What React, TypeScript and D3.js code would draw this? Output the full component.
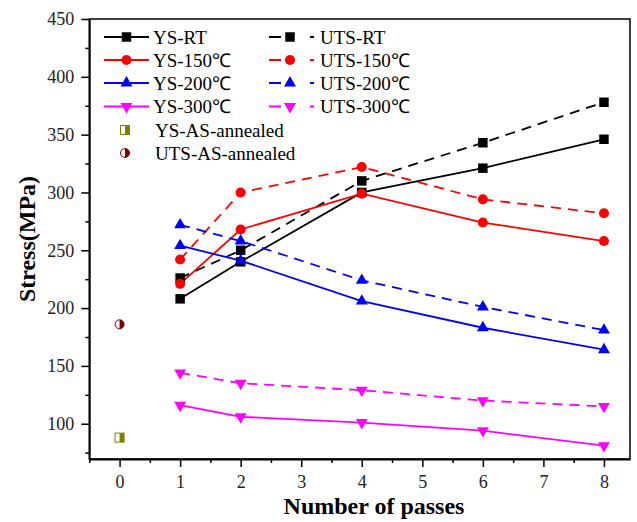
import { useEffect, useRef } from 'react'
import * as d3 from 'd3'

// number of passes
const passes = [1, 2, 4, 6, 8]

// stress values (MPa)
const ysRT = [208, 240, 300, 321, 346]
const utsRT = [226, 250, 310, 343, 378]
const ys150 = [221, 268, 299, 274, 258]
const uts150 = [242, 300, 322, 294, 282]
const ys200 = [254, 241, 206, 183, 164]
const uts200 = [272, 258, 224, 201, 181]
const ys300 = [116, 106, 101, 94, 81]
const uts300 = [144, 135, 129, 120, 115]

const annealedPass = 0
const ysAnnealed = 88
const utsAnnealed = 186

const xTicks = [0, 1, 2, 3, 4, 5, 6, 7, 8]
const yTicks = [100, 150, 200, 250, 300, 350, 400, 450]

const seriesList = [
    { name: 'YS-RT', values: ysRT, color: '#000000', shape: 'square', dashed: false },
    { name: 'UTS-RT', values: utsRT, color: '#000000', shape: 'square', dashed: true },
    { name: 'YS-150\u2103', values: ys150, color: '#ff0000', shape: 'circle', dashed: false },
    { name: 'UTS-150\u2103', values: uts150, color: '#ff0000', shape: 'circle', dashed: true },
    { name: 'YS-200\u2103', values: ys200, color: '#0000ff', shape: 'up', dashed: false },
    { name: 'UTS-200\u2103', values: uts200, color: '#0000ff', shape: 'up', dashed: true },
    { name: 'YS-300\u2103', values: ys300, color: '#ff00ff', shape: 'down', dashed: false },
    { name: 'UTS-300\u2103', values: uts300, color: '#ff00ff', shape: 'down', dashed: true }
]

const FONT = '"Liberation Serif", "Times New Roman", serif'

function symbolPath(shape: string) {
    if (shape === 'square') return d3.symbol(d3.symbolSquare, 90)()
    if (shape === 'circle') return d3.symbol(d3.symbolCircle, 80)()
    return d3.symbol(d3.symbolTriangle, 62)()
}

function App() {
    const ref = useRef<SVGSVGElement>(null)

    useEffect(() => {
        const svg = d3.select(ref.current)
        svg.selectAll('*').remove()

        const left = 89.3
        const right = 630
        const top = 19
        const bottom = 459

        const x = d3.scaleLinear().domain([-0.5, 8.43]).range([left, right])
        const y = d3.scaleLinear().domain([69.5, 450]).range([bottom, top])

        // frame
        svg.append('rect')
            .attr('x', left).attr('y', top)
            .attr('width', right - left).attr('height', bottom - top)
            .attr('fill', 'none').attr('stroke', '#000').attr('stroke-width', 1.5)

        // minor ticks
        const xMinor = d3.range(-0.5, 8.5, 1)
        const yMinor = d3.range(75, 450, 50)
        svg.append('g')
            .attr('transform', `translate(0,${bottom})`)
            .call(d3.axisBottom(x).tickValues(xMinor).tickSize(4).tickSizeOuter(0).tickFormat(() => ''))
            .call(g => g.select('.domain').remove())
            .selectAll('line').attr('stroke-width', 1.5)
        svg.append('g')
            .attr('transform', `translate(${left},0)`)
            .call(d3.axisLeft(y).tickValues(yMinor).tickSize(4).tickSizeOuter(0).tickFormat(() => ''))
            .call(g => g.select('.domain').remove())
            .selectAll('line').attr('stroke-width', 1.5)

        // major axes
        const xAxis = svg.append('g')
            .attr('transform', `translate(0,${bottom})`)
            .call(d3.axisBottom(x).tickValues(xTicks).tickSize(8).tickSizeOuter(0).tickPadding(8).tickFormat(d3.format('d')))
        const yAxis = svg.append('g')
            .attr('transform', `translate(${left},0)`)
            .call(d3.axisLeft(y).tickValues(yTicks).tickSize(8).tickSizeOuter(0).tickPadding(7).tickFormat(d3.format('d')))
        for (const ax of [xAxis, yAxis]) {
            ax.select('.domain').attr('stroke-width', 1.8)
            ax.selectAll('line').attr('stroke-width', 1.5)
            ax.selectAll('text')
                .attr('font-family', FONT)
                .attr('font-size', 18)
                .attr('fill', '#222')
        }

        // lines
        const line = d3.line<number>()
            .x((_, i) => x(passes[i]))
            .y(d => y(d))

        seriesList.forEach(s => {
            svg.append('path')
                .datum(s.values)
                .attr('d', line)
                .attr('fill', 'none')
                .attr('stroke', s.color)
                .attr('stroke-width', 1.8)
                .attr('stroke-dasharray', s.dashed ? '10,7' : null)
        })

        // markers
        seriesList.forEach(s => {
            svg.append('g')
                .selectAll('path')
                .data(s.values)
                .join('path')
                .attr('d', symbolPath(s.shape))
                .attr('transform', (d, i) =>
                    `translate(${x(passes[i])},${y(d)})` + (s.shape === 'down' ? ' rotate(180)' : ''))
                .attr('fill', s.color)
        })

        // half-filled markers for the annealed state
        const halfSquare = (g: any, cx: number, cy: number) => {
            g.append('rect').attr('x', cx - 4.5).attr('y', cy - 4.5).attr('width', 9).attr('height', 9)
                .attr('fill', '#fff').attr('stroke', '#808000').attr('stroke-width', 1)
            g.append('rect').attr('x', cx).attr('y', cy - 4.5).attr('width', 4.5).attr('height', 9)
                .attr('fill', '#808000')
        }
        const halfCircle = (g: any, cx: number, cy: number) => {
            g.append('circle').attr('cx', cx).attr('cy', cy).attr('r', 4.5)
                .attr('fill', '#fff').attr('stroke', '#800000').attr('stroke-width', 1)
            g.append('path')
                .attr('d', `M${cx},${cy - 4.5} A4.5,4.5 0 0 1 ${cx},${cy + 4.5} Z`)
                .attr('fill', '#800000')
        }
        halfSquare(svg, x(annealedPass), y(ysAnnealed))
        halfCircle(svg, x(annealedPass), y(utsAnnealed))

        // legend
        const rowY = [37, 60, 83, 106.5]
        const legend = svg.append('g')
        seriesList.forEach((s, i) => {
            const col = i % 2
            const row = Math.floor(i / 2)
            const x0 = col === 0 ? 104 : 269
            const x1 = col === 0 ? 149 : 315
            const mx = col === 0 ? 126.5 : 290
            const cy = rowY[row]
            legend.append('line')
                .attr('x1', x0).attr('x2', x1).attr('y1', cy).attr('y2', cy)
                .attr('stroke', s.color).attr('stroke-width', 1.8)
                .attr('stroke-dasharray', s.dashed ? '12,29,4,20' : null)
            legend.append('path')
                .attr('d', symbolPath(s.shape))
                .attr('transform', `translate(${mx},${cy})` + (s.shape === 'down' ? ' rotate(180)' : ''))
                .attr('fill', s.color)
            legend.append('text')
                .attr('x', col === 0 ? 153 : 320).attr('y', cy + 6.5)
                .attr('font-family', FONT).attr('font-size', 19)
                .text(s.name)
        })
        halfSquare(legend, 125, 130)
        halfCircle(legend, 125, 153)
        legend.append('text').attr('x', 155).attr('y', 136.5)
            .attr('font-family', FONT).attr('font-size', 19).text('YS-AS-annealed')
        legend.append('text').attr('x', 155).attr('y', 159.5)
            .attr('font-family', FONT).attr('font-size', 19).text('UTS-AS-annealed')

        // axis titles
        svg.append('text')
            .attr('x', 374).attr('y', 514)
            .attr('text-anchor', 'middle')
            .attr('font-family', FONT).attr('font-size', 24).attr('font-weight', 'bold')
            .text('Number of passes')
        svg.append('text')
            .attr('transform', `translate(35,${(top + bottom) / 2}) rotate(-90)`)
            .attr('text-anchor', 'middle')
            .attr('font-family', FONT).attr('font-size', 24).attr('font-weight', 'bold')
            .text('Stress(MPa)')
    }, [])

    return (
        <svg
            ref={ref}
            width={637}
            height={522}
            style={{ position: 'absolute', left: 0, top: 0, background: '#fff' }}
        />
    )
}

export default App
